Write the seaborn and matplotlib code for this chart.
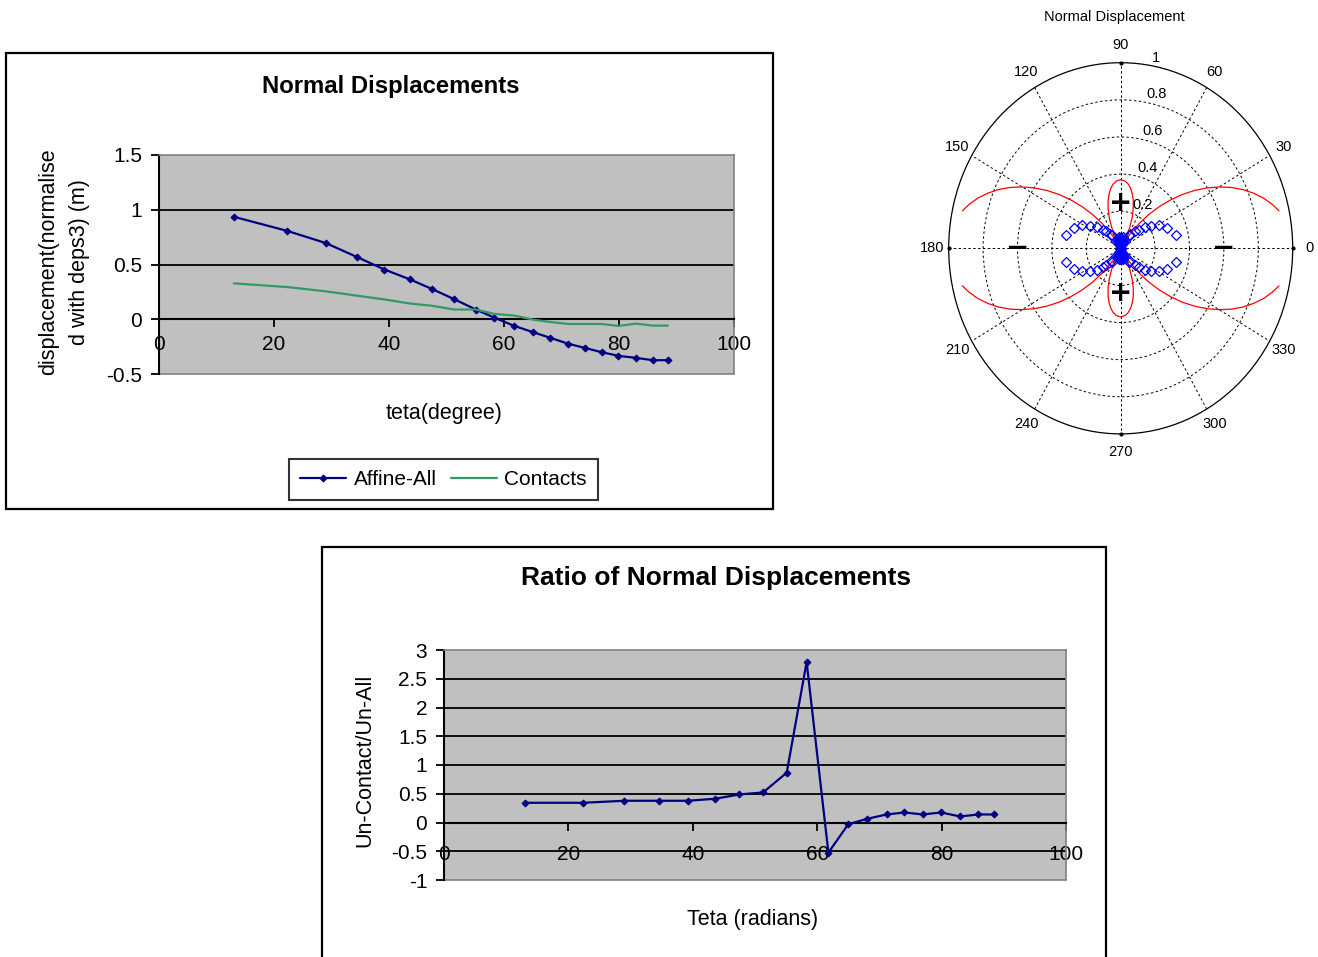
import numpy as np
import matplotlib
matplotlib.use("Agg")
import matplotlib.pyplot as plt
import seaborn as sns
from matplotlib.patches import Rectangle

# ---- data -------------------------------------------------------------
teta = [13.0, 22.3, 29.0, 34.5, 39.2, 43.6, 47.5, 51.3, 55.1, 58.3,
        61.8, 65.0, 68.0, 71.2, 74.0, 77.0, 79.9, 83.0, 85.9, 88.5]
affine_all = [0.936, 0.807, 0.696, 0.567, 0.454, 0.365, 0.276, 0.184, 0.089, 0.015,
              -0.061, -0.117, -0.169, -0.224, -0.261, -0.301, -0.334, -0.353, -0.374, -0.374]
contacts = [0.328, 0.294, 0.255, 0.215, 0.181, 0.144, 0.123, 0.089, 0.089, 0.049,
            0.034, -0.003, -0.025, -0.043, -0.043, -0.043, -0.061, -0.040, -0.058, -0.058]
ratio = [0.343, 0.343, 0.378, 0.378, 0.378, 0.413, 0.488, 0.523, 0.866, 2.79,
         -0.523, -0.03, 0.064, 0.14, 0.174, 0.14, 0.174, 0.105, 0.14, 0.14]

# theoretical normal displacement magnitude (polar plot, first quadrant)
theory_teta = [12.4, 15, 18, 21, 24, 27, 30, 33, 36, 39, 42, 45, 48, 51, 54, 56, 58,
               58.8, 60, 62, 65, 68, 71, 74, 77, 80, 83, 86, 90]
theory_r = [0.942, 0.913, 0.874, 0.828, 0.778, 0.722, 0.661, 0.597, 0.530, 0.461,
            0.389, 0.318, 0.246, 0.175, 0.105, 0.060, 0.016, 0.000, 0.026, 0.067,
            0.124, 0.177, 0.224, 0.266, 0.300, 0.329, 0.350, 0.363, 0.370]

y1_ticks = [-0.5, 0, 0.5, 1, 1.5]
y1_labels = ["-0.5", "0", "0.5", "1", "1.5"]
y2_ticks = [-1, -0.5, 0, 0.5, 1, 1.5, 2, 2.5, 3]
y2_labels = ["-1", "-0.5", "0", "0.5", "1", "1.5", "2", "2.5", "3"]
x_ticks = [0, 20, 40, 60, 80, 100]
polar_angles = list(range(0, 360, 30))
polar_rings = [0.2, 0.4, 0.6, 0.8, 1.0]
polar_ring_labels = ["0.2", "0.4", "0.6", "0.8", "1"]

# ---- style ------------------------------------------------------------
sns.set_style("white")
plt.rcParams["font.family"] = ["Liberation Sans", "DejaVu Sans"]
plt.rcParams["axes.unicode_minus"] = False
for key in ("text.color", "axes.labelcolor", "xtick.color", "ytick.color"):
    plt.rcParams[key] = "black"

W, H = 1318, 957
fig = plt.figure(figsize=(W / 100, H / 100), dpi=100)
fig.patch.set_facecolor("white")


def fx(px):
    return px / W


def fy(py):
    return (H - py) / H


NAVY = "#000080"
GREEN = "#339966"
PLOT_BG = "#C0C0C0"


def excel_axes(rect, ylim, yticks, ylabels, xpad):
    ax = fig.add_axes(rect)
    ax.set_facecolor(PLOT_BG)
    ax.set_xlim(0, 100)
    ax.set_ylim(*ylim)
    ax.set_xticks(x_ticks)
    ax.set_xticklabels([str(v) for v in x_ticks])
    ax.set_yticks(yticks)
    ax.set_yticklabels(ylabels)
    for v in yticks:
        if ylim[0] < v < ylim[1] and v != 0:
            ax.axhline(v, color="black", lw=1.3, zorder=1)
    ax.spines["left"].set_color("black")
    ax.spines["left"].set_linewidth(1.5)
    ax.spines["bottom"].set_position(("data", 0))
    ax.spines["bottom"].set_color("black")
    ax.spines["bottom"].set_linewidth(1.5)
    for s in ("top", "right"):
        ax.spines[s].set_color("#808080")
        ax.spines[s].set_linewidth(1.2)
    ax.axhline(ylim[0], color="#808080", lw=1.2, clip_on=False, zorder=1)
    ax.tick_params(axis="both", direction="out", length=6, width=1.3,
                   color="black", labelcolor="black", labelsize=15,
                   left=True, bottom=True)
    ax.tick_params(axis="x", pad=xpad)
    ax.tick_params(axis="y", pad=6)
    ax.grid(False)
    return ax


# ---- outer chart frames ----------------------------------------------
fig.add_artist(Rectangle((fx(6), fy(509)), fx(773) - fx(6), fy(53) - fy(509),
                         transform=fig.transFigure, fill=False, ec="black", lw=1.6))
fig.add_artist(Rectangle((fx(322), -0.02), fx(1106) - fx(322), fy(547) + 0.02,
                         transform=fig.transFigure, fill=False, ec="black", lw=1.6))

# ---- top-left: Normal Displacements ----------------------------------
ax1 = excel_axes([fx(159), fy(374), fx(734) - fx(159), fy(155) - fy(374)],
                 (-0.5, 1.5), y1_ticks, y1_labels, xpad=5.5)
sns.lineplot(x=teta, y=affine_all, ax=ax1, color=NAVY, lw=1.6, marker="D",
             markersize=3.5, markeredgecolor=NAVY, markerfacecolor=NAVY,
             sort=False, estimator=None, label="Affine-All", zorder=3)
sns.lineplot(x=teta, y=contacts, ax=ax1, color=GREEN, lw=1.6,
             sort=False, estimator=None, label="Contacts", zorder=3)
ax1.set_xlabel("")
ax1.set_ylabel("")
leg = ax1.legend(loc="center", bbox_to_anchor=(fx(443.5), fy(479.5)),
                 bbox_transform=fig.transFigure, ncol=2, frameon=True,
                 fancybox=False, edgecolor="black", fontsize=15,
                 handlelength=2.2, handletextpad=0.35, columnspacing=0.7,
                 borderpad=0.55, borderaxespad=0)
leg.get_frame().set_linewidth(1.5)
for txt in leg.get_texts():
    txt.set_color("black")

fig.text(fx(391), fy(86), "Normal Displacements", ha="center", va="center",
         fontsize=17.2, fontweight="bold")
fig.text(fx(444), fy(413), "teta(degree)", ha="center", va="center", fontsize=15.5)
fig.text(fx(64), fy(262), "displacement(normalise\nd with deps3) (m)", ha="center",
         va="center", rotation=90, fontsize=15.5, linespacing=1.6,
         multialignment="center")

# ---- bottom: Ratio of Normal Displacements ---------------------------
ax2 = excel_axes([fx(444), fy(880), fx(1066) - fx(444), fy(650) - fy(880)],
                 (-1, 3), y2_ticks, y2_labels, xpad=10)
sns.lineplot(x=teta, y=ratio, ax=ax2, color=NAVY, lw=1.6, marker="D",
             markersize=3.5, markeredgecolor=NAVY, markerfacecolor=NAVY,
             sort=False, estimator=None, zorder=3)
ax2.set_xlabel("")
ax2.set_ylabel("")
fig.text(fx(716), fy(578), "Ratio of Normal Displacements", ha="center", va="center",
         fontsize=19, fontweight="bold")
fig.text(fx(753), fy(919), "Teta (radians)", ha="center", va="center", fontsize=15.5)
fig.text(fx(365), fy(760), "Un-Contact/Un-All", ha="center", va="center",
         rotation=90, fontsize=15.5)

# ---- top-right: polar plot -------------------------------------------
cx, cy, rx, ry = 1120.7, 248.3, 172.0, 185.6
ax3 = fig.add_axes([fx(cx - rx), fy(cy + ry), 2 * rx / W, 2 * ry / H],
                   projection="polar")
ax3.set_aspect("auto")
ax3.set_facecolor("white")
ax3.set_ylim(0, 1)
ax3.set_yticks(polar_rings[:-1])
ax3.set_yticklabels([])
ax3.set_xticks(np.deg2rad(polar_angles))
ax3.set_xticklabels([])
ax3.grid(True, color="black", linestyle=(0, (2.5, 2.5)), linewidth=0.7)
ax3.spines["polar"].set_color("black")
ax3.spines["polar"].set_linewidth(0.9)
ax3.tick_params(length=0)

for deg in polar_angles:
    ax3.text(np.deg2rad(deg), 1.095, str(deg), ha="center", va="center", fontsize=10.5)
for v, lab in zip(polar_rings, polar_ring_labels):
    ax3.annotate(lab, xy=(np.deg2rad(82), v), xytext=(5, 0), textcoords="offset points",
                 ha="left", va="bottom", fontsize=10.5)
ax3.plot(np.deg2rad([0, 90, 180, 270]), [1, 1, 1, 1], "k.", ms=4, clip_on=False)

# theoretical curve mirrored into the four quadrants
th = np.array(theory_teta)
rr = np.array(theory_r)
upper_t = np.concatenate([th, (180 - th)[::-1][1:]])
upper_r = np.concatenate([rr, rr[::-1][1:]])
for off in (0, 180):
    sns.lineplot(x=np.deg2rad(upper_t + off), y=upper_r, ax=ax3, color="red",
                 lw=0.9, sort=False, estimator=None)

# contact displacements as open diamonds, mirrored
t = np.array(teta)
r = np.abs(np.array(contacts))
for ang in (t, 180 - t, 180 + t, 360 - t):
    sns.lineplot(x=np.deg2rad(ang), y=r, ax=ax3, linestyle="", marker="D",
                 markersize=5.5, markerfacecolor="none", markeredgecolor="blue",
                 markeredgewidth=0.9, color="blue", sort=False, estimator=None)
ax3.set_xlabel("")
ax3.set_ylabel("")

# sign of the normal displacement in each region
for deg, rad, sym in [(90, 0.243, "+"), (270, 0.243, "+"),
                      (0, 0.6, "\u2212"), (180, 0.6, "\u2212")]:
    ax3.text(np.deg2rad(deg), rad, sym, ha="center", va="center", fontsize=20,
             fontweight="bold", family="DejaVu Sans", color="black")

fig.text(fx(1114), fy(17), "Normal Displacement", ha="center", va="center", fontsize=10.5)

fig.savefig("out.png", dpi=100)
